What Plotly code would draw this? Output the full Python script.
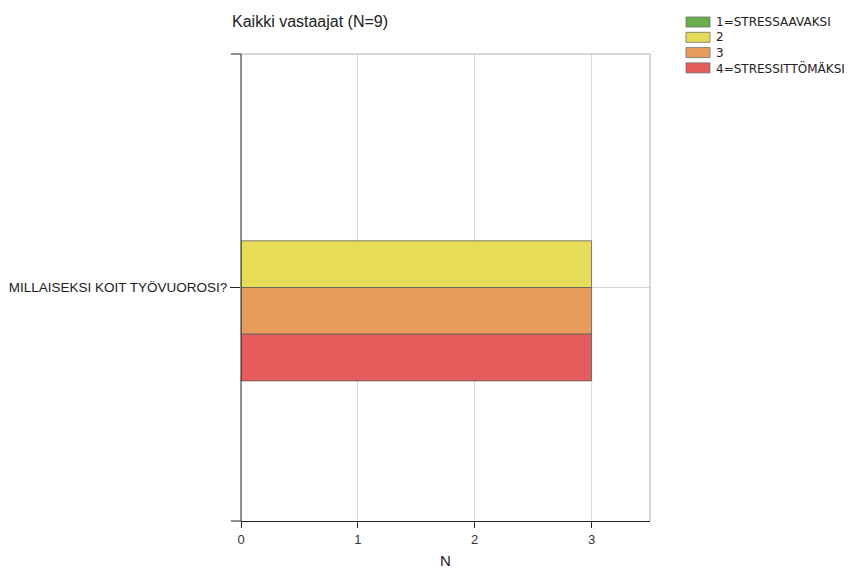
import plotly.graph_objects as go

categories = ["MILLAISEKSI KOIT TYÖVUOROSI?"]
series_names = ["1=STRESSAAVAKSI", "2", "3", "4=STRESSITTÖMÄKSI"]
series_values = [[0], [3], [3], [3]]
series_colors = ["#6aae4c", "#e6dc58", "#e89c5c", "#e45c5c"]
x_ticks = [0, 1, 2, 3]

fig = go.Figure()
for name, vals, col in zip(series_names, series_values, series_colors):
    fig.add_trace(go.Bar(
        y=categories, x=vals, name=name, orientation="h", showlegend=False,
        marker=dict(color=col, line=dict(color="rgba(90,90,90,0.75)",
                                         width=[1 if v > 0 else 0 for v in vals])),
    ))

L, R, T, B = 241, 198, 54, 48
W, H = 848, 569
pw, ph = W - L - R, H - T - B

fig.update_layout(
    width=W, height=H,
    margin=dict(l=L, r=R, t=T, b=B, pad=0, autoexpand=False),
    paper_bgcolor="white", plot_bgcolor="white",
    barmode="group", bargap=0.6, bargroupgap=0,
    title=dict(text="Kaikki vastaajat (N=9)", x=232 / W, xanchor="left",
               y=1 - 21 / H, yanchor="middle",
               font=dict(family="Liberation Sans, Arial", size=16, color="#222")),
    font=dict(family="Liberation Sans, Arial", size=13, color="#333"),
    showlegend=False,
    xaxis=dict(range=[0, 3.5], tickvals=x_ticks, showgrid=True, gridcolor="#d9d9d9",
               gridwidth=1, zeroline=False, showline=True, linecolor="#222", linewidth=1,
               ticks="outside", ticklen=6, tickcolor="#222", automargin=False,
               title=dict(text="N", font=dict(size=15, color="#222"), standoff=14),
               tickfont=dict(size=13, color="#333")),
    yaxis=dict(autorange="reversed", showgrid=True, gridcolor="#d9d9d9", zeroline=False,
               showline=False, automargin=False,
               ticks="outside", ticklen=10, tickcolor="#222",
               tickfont=dict(size=13.5, color="#222")),
)

# frame lines, small end ticks
fig.add_shape(type="line", xref="paper", yref="paper", x0=0, x1=1, y0=1, y1=1,
              line=dict(color="#aab2ba", width=1), layer="above")
fig.add_shape(type="line", xref="paper", yref="paper", x0=1, x1=1, y0=0, y1=1,
              line=dict(color="#aab2ba", width=1), layer="above")
fig.add_shape(type="line", xref="paper", yref="paper", x0=0, x1=0, y0=0, y1=1,
              line=dict(color="#222", width=1), layer="above")
fig.add_shape(type="line", xref="paper", yref="paper", x0=-10 / pw, x1=0, y0=1, y1=1,
              line=dict(color="#222", width=1), layer="above")
fig.add_shape(type="line", xref="paper", yref="paper", x0=-10 / pw, x1=0, y0=0, y1=0,
              line=dict(color="#222", width=1), layer="above")

# legend (drawn with shapes + annotations in pixel-derived paper coords)
def px_x(px):
    return (px - L) / pw

def px_y(py):
    return 1 - (py - T) / ph

leg_top = 17
row_h = 15.3
for i, (name, col) in enumerate(zip(series_names, series_colors)):
    y0 = leg_top + i * row_h
    fig.add_shape(type="rect", xref="paper", yref="paper",
                  x0=px_x(686), x1=px_x(710), y0=px_y(y0), y1=px_y(y0 + 10),
                  fillcolor=col, line=dict(color="rgba(110,110,110,0.8)", width=1))
    fig.add_annotation(xref="paper", yref="paper", x=px_x(714), y=px_y(y0 + 5),
                       text=name, showarrow=False, xanchor="left", yanchor="middle",
                       font=dict(family="DejaVu Sans, Verdana", size=12, color="#222"))

fig.write_html("out.html")
